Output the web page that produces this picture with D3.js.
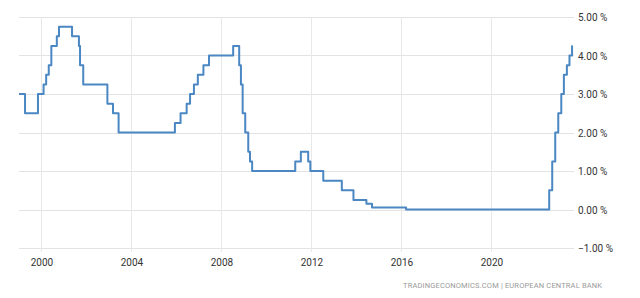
<!DOCTYPE html>
<html>
<head>
<meta charset="utf-8">
<script src="https://cdn.jsdelivr.net/npm/d3@7"></script>
<style>
  body { margin: 0; background: #fff; }
  .tick-label { font-family: Roboto, "Liberation Sans", Arial, sans-serif; font-size: 10px; fill: #333; }
</style>
</head>
<body>
<div id="chart"></div>
<script>
// ECB main refinancing rate, change dates and new levels (%)
var changeDates = [
  "1999-01-01", "1999-04-09", "1999-11-05", "2000-02-04", "2000-03-17", "2000-04-28",
  "2000-06-09", "2000-09-06", "2000-10-11", "2001-05-11", "2001-08-31", "2001-09-18",
  "2001-11-09", "2002-12-06", "2003-03-07", "2003-06-06", "2005-12-06", "2006-03-08",
  "2006-06-15", "2006-08-09", "2006-10-11", "2006-12-13", "2007-03-14", "2007-06-13",
  "2008-07-09", "2008-10-15", "2008-11-12", "2008-12-10", "2009-01-21", "2009-03-11",
  "2009-04-08", "2009-05-13", "2011-04-13", "2011-07-13", "2011-11-09", "2011-12-14",
  "2012-07-11", "2013-05-08", "2013-11-13", "2014-06-11", "2014-09-10", "2016-03-16",
  "2022-07-27", "2022-09-14", "2022-11-02", "2022-12-21", "2023-02-08", "2023-03-22",
  "2023-05-10", "2023-06-21", "2023-08-02", "2023-08-10"
];
var rates = [
  3.00, 2.50, 3.00, 3.25, 3.50, 3.75,
  4.25, 4.50, 4.75, 4.50, 4.25, 3.75,
  3.25, 2.75, 2.50, 2.00, 2.25, 2.50,
  2.75, 3.00, 3.25, 3.50, 3.75, 4.00,
  4.25, 3.75, 3.25, 2.50, 2.00, 1.50,
  1.25, 1.00, 1.25, 1.50, 1.25, 1.00,
  0.75, 0.50, 0.25, 0.15, 0.05, 0.00,
  0.50, 1.25, 2.00, 2.50, 3.00, 3.50,
  3.75, 4.00, 4.25, 4.25
];
var yearTicks = [2000, 2004, 2008, 2012, 2016, 2020];
var rateTicks = [-1, 0, 1, 2, 3, 4, 5];
var source = "TRADINGECONOMICS.COM  |  EUROPEAN CENTRAL BANK";

var svgWidth = 640, svgHeight = 298;
var margin = { top: 17, right: 68, bottom: 50, left: 19 };
var width = svgWidth - margin.left - margin.right;
var height = svgHeight - margin.top - margin.bottom;

var parseDate = d3.timeParse("%Y-%m-%d");
var data = changeDates.map(function (d, i) {
  return { date: parseDate(d), rate: rates[i] };
});

var svg = d3.select("#chart").append("svg")
  .attr("width", svgWidth)
  .attr("height", svgHeight);

var g = svg.append("g")
  .attr("transform", `translate(${margin.left}, ${margin.top})`);

var x = d3.scaleTime()
  .domain([new Date(1999, 0, 1), new Date(2023, 7, 1)])
  .range([0, width]);

var y = d3.scaleLinear()
  .domain([-1, 5])
  .range([height, 0]);

// Grid lines
g.selectAll(".hgrid")
  .data(rateTicks)
  .enter().append("line")
  .attr("x1", 0)
  .attr("x2", width + 2)
  .attr("y1", d => Math.round(y(d)) + 0.5)
  .attr("y2", d => Math.round(y(d)) + 0.5)
  .attr("stroke", "#e3e3e3")
  .attr("stroke-width", 1);

g.selectAll(".vgrid")
  .data(yearTicks)
  .enter().append("line")
  .attr("x1", d => Math.round(x(new Date(d, 0, 1))) + 0.5)
  .attr("x2", d => Math.round(x(new Date(d, 0, 1))) + 0.5)
  .attr("y1", 0)
  .attr("y2", height + 4)
  .attr("stroke", "#e8e8e8")
  .attr("stroke-width", 1);

// Axis labels
var bottomAxis = d3.axisBottom(x)
  .tickValues(yearTicks.map(d => new Date(d, 0, 1)))
  .tickFormat(d3.timeFormat("%Y"))
  .tickSize(0)
  .tickPadding(11);

var xAxisG = g.append("g")
  .attr("transform", `translate(0, ${height})`)
  .call(bottomAxis);
xAxisG.select(".domain").remove();
xAxisG.selectAll("text").attr("class", "tick-label");

var rightAxis = d3.axisRight(y)
  .tickValues(rateTicks)
  .tickFormat(d => d3.format(".2f")(d) + " %")
  .tickSize(0)
  .tickPadding(4);

var yAxisG = g.append("g")
  .attr("transform", `translate(${width + 2}, 0)`)
  .call(rightAxis);
yAxisG.select(".domain").remove();
yAxisG.selectAll("text").attr("class", "tick-label").attr("dy", "0.35em");

// Rate line
var line = d3.line()
  .curve(d3.curveStepAfter)
  .x(d => x(d.date))
  .y(d => y(d.rate));

g.append("path")
  .datum(data)
  .attr("fill", "none")
  .attr("stroke", "#4a87c3")
  .attr("stroke-width", 2)
  .attr("stroke-linejoin", "round")
  .attr("d", line);

// Source credit
svg.append("text")
  .attr("x", 403)
  .attr("y", 288)
  .attr("textLength", 199)
  .attr("lengthAdjust", "spacing")
  .attr("font-family", "Roboto, 'Liberation Sans', Arial, sans-serif")
  .attr("font-size", "7.5px")
  .attr("fill", "#9a9a9a")
  .text(source);
</script>
</body>
</html>
